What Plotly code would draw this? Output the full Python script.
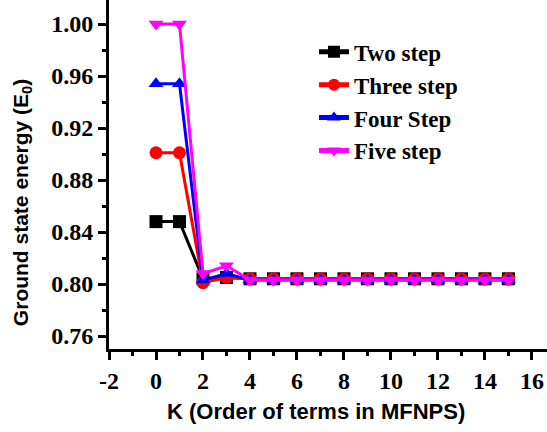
import plotly.graph_objects as go

k = list(range(0, 16))
two_step = [0.848, 0.848, 0.804, 0.805] + [0.804] * 12
three_step = [0.901, 0.901, 0.801, 0.805] + [0.804] * 12
four_step = [0.954, 0.954, 0.803, 0.808] + [0.803] * 12
five_step = [1.000, 1.000, 0.808, 0.814] + [0.803] * 12

names = ["Two step", "Three step", "Four Step", "Five step"]
series = [two_step, three_step, four_step, five_step]
colors = ["#000000", "#ff0000", "#0000ff", "#ff00ff"]
symbols = ["square", "circle", "triangle-up", "triangle-down"]

x_ticks = list(range(-2, 17, 2))
y_ticks = [0.76, 0.80, 0.84, 0.88, 0.92, 0.96, 1.00]

fig = go.Figure()
for i, (n, s, c, sym) in enumerate(zip(names, series, colors, symbols)):
    fig.add_trace(go.Scatter(
        x=k, y=s, name="<b>" + n + "</b>", mode="lines+markers",
        legendgroup=str(i),
        line=dict(color=c, width=3),
        marker=dict(symbol=sym, size=13, color=c),
    ))

fig.update_layout(
    width=547, height=432,
    margin=dict(l=109, r=0, t=0, b=83),
    paper_bgcolor="white", plot_bgcolor="white",
    showlegend=True,
    legend=dict(
        x=0.468, y=0.913, xanchor="left", yanchor="top",
        font=dict(family="Liberation Serif", size=23, color="black"),
        bgcolor="rgba(0,0,0,0)", tracegroupgap=0, itemsizing="constant",
    ),
    xaxis=dict(
        range=[-2, 16.64], tickmode="array",
        tickvals=x_ticks,
        ticktext=["<b>%d</b>" % v for v in x_ticks],
        ticks="outside", ticklen=8, tickwidth=3, tickcolor="black",
        minor=dict(dtick=1, tick0=-2, ticks="outside", ticklen=4, tickwidth=3, tickcolor="black"),
        showline=True, linewidth=3, linecolor="black",
        showgrid=False, zeroline=False, automargin=False,
        tickfont=dict(family="Liberation Serif", size=24, color="black"),
    ),
    yaxis=dict(
        range=[0.75, 1.0185], tickmode="array",
        tickvals=y_ticks,
        ticktext=["<b>%.2f</b>" % v for v in y_ticks],
        ticks="outside", ticklen=8, tickwidth=3, tickcolor="black",
        minor=dict(tickvals=[0.78, 0.82, 0.86, 0.90, 0.94, 0.98], ticks="outside",
                   ticklen=4, tickwidth=3, tickcolor="black"),
        showline=True, linewidth=3, linecolor="black",
        showgrid=False, zeroline=False, automargin=False,
        tickfont=dict(family="Liberation Serif", size=24, color="black"),
    ),
    annotations=[
        dict(text="<b>K (Order of terms in MFNPS)</b>", xref="paper", yref="paper",
             x=0.4715, y=-0.1805, xanchor="center", yanchor="middle", showarrow=False,
             font=dict(family="Liberation Sans", size=22, color="black")),
        dict(text="<b>Ground state energy (E<sub>0</sub>)</b>", xref="paper", yref="paper",
             x=-0.1986, y=0.418, xanchor="center", yanchor="middle", showarrow=False,
             textangle=-90,
             font=dict(family="Liberation Sans", size=21, color="black")),
    ],
)

fig.write_html("out.html", post_script="document.body.style.margin='0';",
               config={"displayModeBar": False})
